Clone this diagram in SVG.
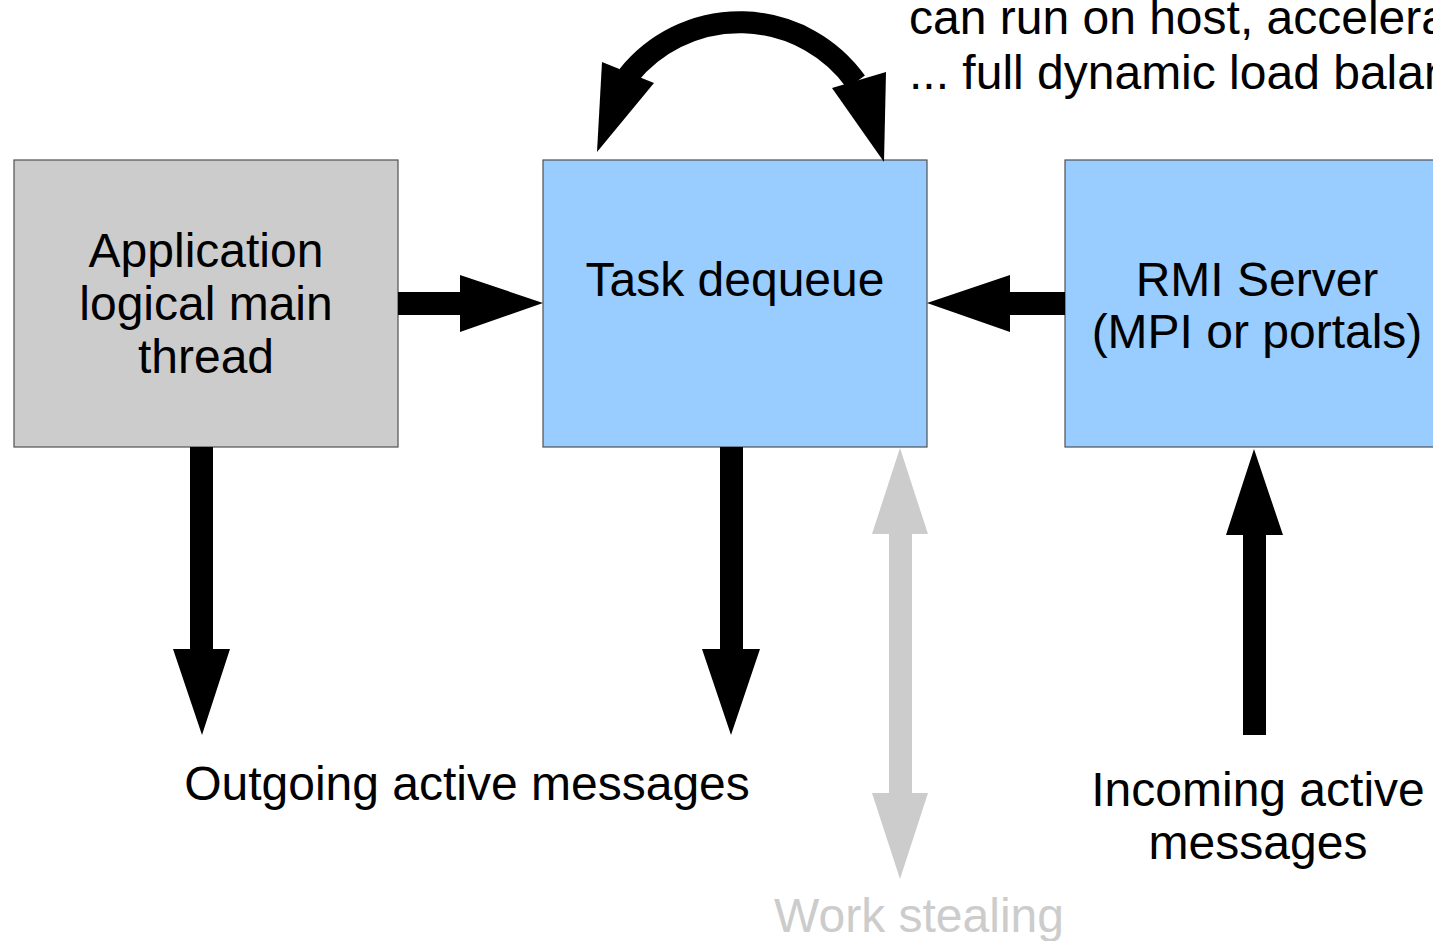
<svg xmlns="http://www.w3.org/2000/svg" width="1433" height="941" viewBox="0 0 1433 941">
  <style>
    .lbl { font-family: "Liberation Sans", Arial, sans-serif; font-size: 48px; fill: #000; }
    .mid { text-anchor: middle; }
    .box { stroke: #505050; stroke-width: 1.2; }
    .blk { fill: #000; }
    .gry { fill: #cccccc; }
  </style>
  <rect width="1433" height="941" fill="#ffffff"/>

  <!-- Nodes -->
  <g id="app-main-thread">
    <rect class="box" x="14" y="160" width="384" height="287" fill="#cccccc"/>
    <text class="lbl mid" x="206" y="267">Application</text>
    <text class="lbl mid" x="206" y="320">logical main</text>
    <text class="lbl mid" x="206" y="373">thread</text>
  </g>
  <g id="task-dequeue">
    <rect class="box" x="543" y="160" width="384" height="287" fill="#99ccff"/>
    <text class="lbl mid" x="735" y="296">Task dequeue</text>
  </g>
  <g id="rmi-server">
    <rect class="box" x="1065" y="160" width="384" height="287" fill="#99ccff"/>
    <text class="lbl mid" x="1257" y="296">RMI Server</text>
    <text class="lbl mid" x="1257" y="348">(MPI or portals)</text>
  </g>

  <!-- Connectors -->
  <g id="connectors">
    <!-- main thread to task dequeue -->
    <polygon class="blk" points="398,292 460,292 460,275 543,303 460,332 460,315 398,315"/>
    <!-- RMI server to task dequeue -->
    <polygon class="blk" points="1065,292 1010,292 1010,275 927,303 1010,332 1010,315 1065,315"/>
    <!-- main thread: outgoing messages -->
    <polygon class="blk" points="190,447 213,447 213,649 230,649 202,735 173,649 190,649"/>
    <!-- task dequeue: outgoing messages -->
    <polygon class="blk" points="720,447 743,447 743,649 760,649 731,735 702,649 720,649"/>
    <!-- incoming messages to RMI server -->
    <polygon class="blk" points="1243,735 1266,735 1266,535 1283,535 1254,449 1226,535 1243,535"/>
    <!-- work stealing, both directions -->
    <polygon class="gry" points="900,448 928,534 912,534 912,793 928,793 900,879 872,793 889,793 889,534 872,534"/>
    <!-- task loop over the dequeue -->
    <path d="M 628,76 A 143,143 0 0 1 856,82" fill="none" stroke="#000" stroke-width="22"/>
    <polygon class="blk" points="602,62 654,83 597,152"/>
    <polygon class="blk" points="886,72 832,88 884,162"/>
  </g>

  <!-- Free labels -->
  <g id="labels">
    <text class="lbl" x="909" y="34">can run on host, accelerator, ...</text>
    <text class="lbl" x="909" y="89">... full dynamic load balancing</text>
    <text class="lbl mid" x="467" y="800">Outgoing active messages</text>
    <text class="lbl mid" x="1258" y="806">Incoming active</text>
    <text class="lbl mid" x="1258" y="859">messages</text>
    <text class="lbl mid" x="919" y="932" style="fill:#cccccc">Work stealing</text>
  </g>
</svg>
